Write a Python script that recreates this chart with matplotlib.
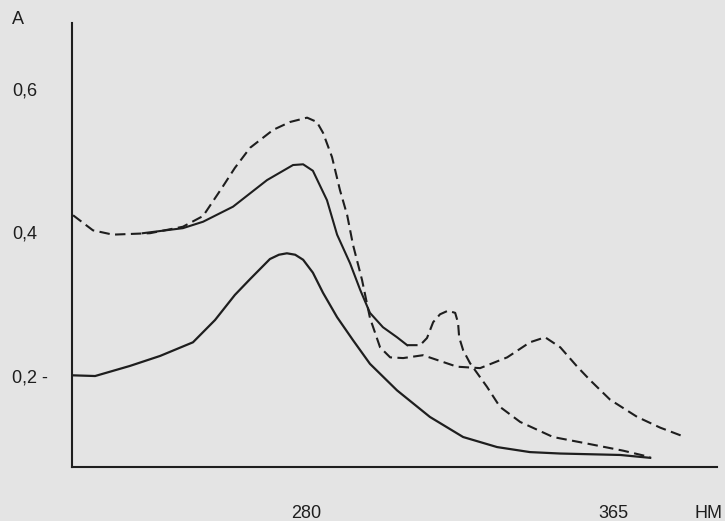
import matplotlib
matplotlib.use('Agg')
import matplotlib.pyplot as plt

# wavelength (nm) and absorbance
low_nm = [215.2, 221.6, 231.2, 239.6, 248.7, 254.8, 260.3, 264.5, 270.0, 272.5,
          274.7, 277.0, 279.2, 281.9, 284.7, 288.6, 293.0, 297.7, 305.2, 314.3,
          323.5, 332.9, 342.0, 350.4, 367.0, 375.3]
low_a = [0.201, 0.200, 0.214, 0.228, 0.247, 0.278, 0.313, 0.335, 0.363, 0.369,
         0.371, 0.369, 0.362, 0.344, 0.316, 0.282, 0.250, 0.217, 0.180, 0.143,
         0.115, 0.101, 0.094, 0.092, 0.090, 0.086]

mid_nm = [234.8, 245.9, 251.5, 259.8, 269.2, 276.4, 279.2, 281.9, 285.8, 288.6,
          292.2, 295.0, 297.7, 301.3, 305.2, 308.0,
          311.6, 313.5, 315.2, 317.1, 319.3, 321.3, 322.1, 322.4, 323.5, 325.4,
          330.1, 333.7, 339.3, 348.4, 356.7, 367.8, 375.3]
mid_a = [0.399, 0.406, 0.415, 0.436, 0.473, 0.494, 0.495, 0.486, 0.445, 0.397,
         0.357, 0.320, 0.288, 0.268, 0.254, 0.243,
         0.243, 0.253, 0.275, 0.286, 0.291, 0.288, 0.274, 0.254, 0.236, 0.218,
         0.185, 0.157, 0.136, 0.115, 0.107, 0.096, 0.087]
mid_solid_until = 16  # first part of the middle curve is solid, the tail dashed

top_nm = [215.5, 221.0, 226.5, 236.8, 245.9, 251.5, 256.7, 260.3, 264.5, 270.9,
          275.6, 280.3, 283.0, 284.7, 287.2, 289.4, 291.4, 293.0, 295.5, 297.7,
          300.5, 303.3, 306.9, 312.4, 317.1, 321.8, 328.2, 335.7, 342.0, 346.2,
          350.4, 355.1, 358.7, 364.2, 371.7, 378.1, 384.4]
top_a = [0.424, 0.403, 0.397, 0.399, 0.408, 0.423, 0.462, 0.490, 0.518, 0.543,
         0.554, 0.560, 0.554, 0.539, 0.505, 0.459, 0.424, 0.383, 0.334, 0.281,
         0.240, 0.226, 0.225, 0.229, 0.221, 0.213, 0.211, 0.226, 0.247, 0.254,
         0.240, 0.213, 0.194, 0.167, 0.143, 0.128, 0.116]

y_ticks = [0.2, 0.4, 0.6]
y_labels = ['0,2 -', '0,4', '0,6']
x_ticks = [280, 365, 391.5]
x_labels = ['280', '365', 'НМ']

plt.rcParams['font.family'] = ['Liberation Sans', 'DejaVu Sans']
ink = '#1e1e1e'
paper = '#e4e4e4'

fig = plt.figure(figsize=(7.25, 5.21), dpi=100, facecolor=paper)
ax = fig.add_axes([0.0993, 0.1036, 0.8897, 0.8524], facecolor=paper)

dash = (0, (5, 2.6))
ax.plot(low_nm, low_a, color=ink, lw=1.6)
ax.plot(mid_nm[:mid_solid_until], mid_a[:mid_solid_until], color=ink, lw=1.5)
ax.plot(mid_nm[mid_solid_until - 1:], mid_a[mid_solid_until - 1:], color=ink,
        lw=1.5, linestyle=dash)
ax.plot(top_nm, top_a, color=ink, lw=1.5, linestyle=dash)

ax.set_xlim(215.2, 393.8)
ax.set_ylim(0.0732, 0.692)

ax.set_yticks(y_ticks, y_labels)
ax.set_xticks(x_ticks, x_labels)
ax.tick_params(axis='y', length=0, pad=43, labelsize=13, colors=ink)
ax.tick_params(axis='x', length=0, pad=27, labelsize=13, colors=ink)
for lbl in ax.get_yticklabels():
    lbl.set_horizontalalignment('left')

for side in ['top', 'right']:
    ax.spines[side].set_visible(False)
for side in ['left', 'bottom']:
    ax.spines[side].set_color(ink)
    ax.spines[side].set_linewidth(1.5)

fig.text(18 / 725, 1 - 20 / 521, 'A', fontsize=13, color=ink,
         ha='center', va='center')

fig.savefig('out.png', dpi=100, facecolor=paper)
